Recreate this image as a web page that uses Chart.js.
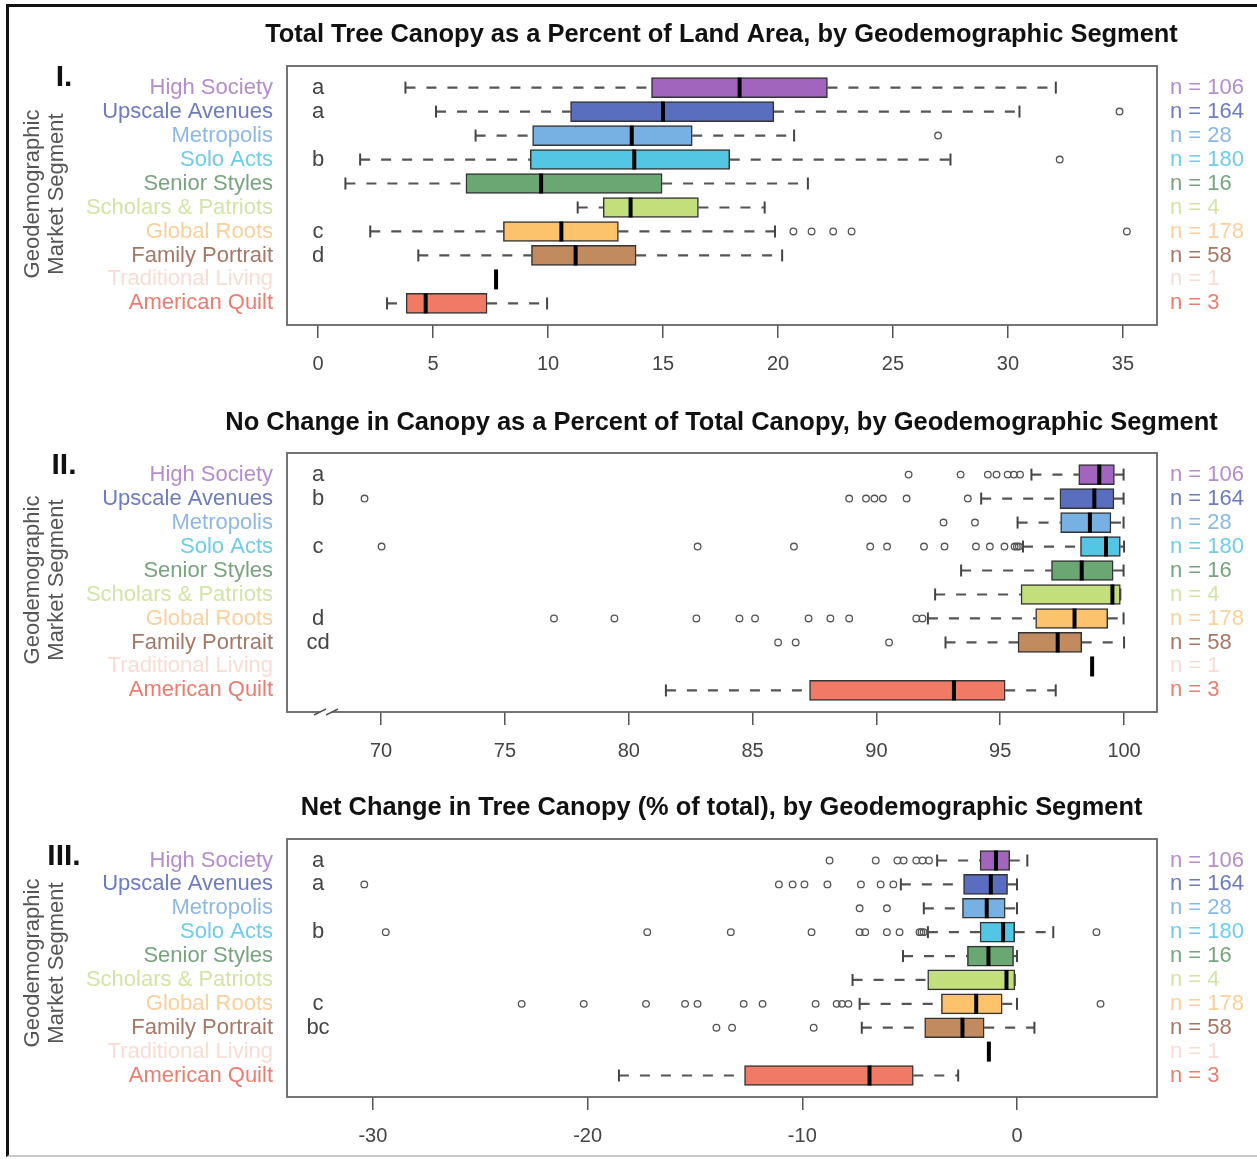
<!DOCTYPE html>
<html>
<head>
<meta charset="utf-8">
<title>Tree canopy by geodemographic segment</title>
<script src="https://cdn.jsdelivr.net/npm/chart.js@4.4.1/dist/chart.umd.min.js"></script>
<style>
  html, body { margin: 0; padding: 0; background: #fff; }
  #page { position: relative; width: 1257px; height: 1159px; overflow: hidden; background: #fff; }
  #page canvas { position: absolute; left: 0; }
  #frame { position: absolute; left: 6px; top: 4px; right: 0; bottom: 2px;
           border-left: 3px solid #111; border-top: 3px solid #111; border-bottom: 2px solid #c8c8c8;
           pointer-events: none; }
</style>
</head>
<body>
<div id="page">
  <canvas id="panel1" width="1257" height="390" style="top:0"></canvas>
  <canvas id="panel2" width="1257" height="385" style="top:390px"></canvas>
  <canvas id="panel3" width="1257" height="384" style="top:775px"></canvas>
  <div id="frame"></div>
</div>
<script>
// --- categories (top to bottom) ---
const segments = ['High Society', 'Upscale Avenues', 'Metropolis', 'Solo Acts', 'Senior Styles',
                  'Scholars & Patriots', 'Global Roots', 'Family Portrait', 'Traditional Living', 'American Quilt'];
const sampleSizes = [106, 164, 28, 180, 16, 4, 178, 58, 1, 3];

// --- I. total tree canopy, % of land area ---
const canopyLow     = [3.8, 5.13, 6.85, 1.83, 1.19, 11.29, 2.27, 4.36, null, 3.0];
const canopyQ1      = [14.5, 10.98, 9.33, 9.23, 6.43, 12.4, 8.06, 9.28, null, 3.83];
const canopyMedian  = [18.33, 15.0, 13.64, 13.75, 9.7, 13.59, 10.58, 11.2, 7.74, 4.68];
const canopyQ3      = [22.15, 19.82, 16.27, 17.9, 14.96, 16.54, 13.06, 13.83, null, 7.35];
const canopyHigh    = [32.08, 30.5, 20.7, 27.5, 21.3, 19.42, 19.87, 20.18, null, 9.96];
const canopyOutliers = [[], [34.85], [26.96], [32.25], [], [], [20.67, 21.46, 22.4, 23.2, 35.17], [], [], []];
const canopyGroups  = ['a', 'a', '', 'b', '', '', 'c', 'd', '', ''];
const canopyTicks   = [0, 5, 10, 15, 20, 25, 30, 35];

// --- II. no change in canopy, % of total canopy ---
const stableLow     = [96.26, 94.23, 95.7, 95.92, 93.42, 92.37, 92.08, 92.79, null, 81.5];
const stableQ1      = [98.17, 97.41, 97.44, 98.24, 97.07, 95.84, 96.43, 95.72, null, 87.3];
const stableMedian  = [99.0, 98.8, 98.62, 99.27, 98.29, 99.53, 98.0, 97.32, 98.71, 93.13];
const stableQ3      = [99.61, 99.59, 99.47, 99.85, 99.56, 99.85, 99.34, 98.29, null, 95.2];
const stableHigh    = [99.98, 99.98, 99.98, 100.0, 99.98, 99.85, 99.98, 100.0, null, 97.24];
const stableOutliers = [
  [91.3, 93.4, 94.5, 94.85, 95.3, 95.55, 95.8],
  [69.33, 88.9, 89.58, 89.92, 90.26, 91.22, 93.69],
  [92.71, 93.98],
  [70.02, 82.78, 86.67, 89.75, 90.43, 91.92, 92.75, 94.02, 94.58, 95.17, 95.58, 95.67, 95.75],
  [],
  [],
  [76.98, 79.42, 82.73, 84.47, 85.1, 87.26, 88.14, 88.9, 91.61, 91.86],
  [86.03, 86.74, 90.51],
  [],
  []
];
const stableGroups  = ['a', 'b', '', 'c', '', '', 'd', 'cd', '', ''];
const stableTicks   = [70, 75, 80, 85, 90, 95, 100];

// --- III. net change in tree canopy, % of total ---
const netLow        = [-3.72, -5.41, -4.34, -4.15, -5.31, -7.66, -7.33, -7.23, null, -18.54];
const netQ1         = [-1.72, -2.49, -2.54, -1.72, -2.31, -4.16, -3.52, -4.3, null, -12.69];
const netMedian     = [-0.98, -1.22, -1.41, -0.65, -1.33, -0.49, -1.9, -2.54, -1.31, -6.87];
const netQ3         = [-0.34, -0.44, -0.55, -0.11, -0.16, -0.1, -0.69, -1.53, null, -4.83];
const netHigh       = [0.48, 0.0, 0.0, 1.69, 0.0, -0.1, 0.0, 0.81, null, -2.74];
const netOutliers = [
  [-8.73, -6.58, -5.57, -5.28, -4.69, -4.4, -4.1],
  [-30.4, -11.09, -10.45, -9.9, -8.83, -7.27, -6.35, -5.76],
  [-7.33, -6.06],
  [-29.4, -17.22, -13.33, -9.57, -7.33, -7.07, -6.06, -5.47, -4.54, -4.45, -4.35, 3.7],
  [],
  [],
  [-23.07, -20.18, -17.28, -15.46, -14.88, -12.73, -11.85, -9.38, -8.4, -8.15, -7.85, 3.89],
  [-14.0, -13.27, -9.47],
  [],
  []
];
const netGroups     = ['a', 'a', '', 'b', '', '', 'c', 'bc', '', ''];
const netTicks      = [-30, -20, -10, 0];

// --- styling ---
const boxFill  = ['#a265bd', '#5a6ebf', '#77b0e3', '#52c6e2', '#6aa772',
                  '#c3df7c', '#fdc36c', '#c28b5f', '#f6d3c6', '#f07a66'];
const labelInk = ['#b58ccc', '#6c7cbf', '#8db8e6', '#6fcde6', '#78a57e',
                  '#d2e4a6', '#fbd09c', '#a57866', '#f9ddd5', '#ea7d70'];
const FONT = "'Liberation Sans', Arial, Helvetica, sans-serif";

function boxDatasets(low, q1, med, q3, high, outliers) {
    const boxes = [], fills = [], whiskers = [], caps = [], medians = [], dots = [];
    segments.forEach((s, i) => {
        medians.push({ x: med[i], y: i });
        outliers[i].forEach(v => dots.push({ x: v, y: i }));
        if (q1[i] === null) return;
        boxes.push({ x: [q1[i], q3[i]], y: i });
        fills.push(boxFill[i]);
        whiskers.push({ x: low[i], y: i }, { x: q1[i], y: i }, { x: null, y: i },
                      { x: q3[i], y: i }, { x: high[i], y: i }, { x: null, y: i });
        caps.push({ x: low[i], y: i }, { x: high[i], y: i });
    });
    return [
        { type: 'line', data: whiskers, borderColor: '#555', borderWidth: 2.2, borderDash: [10, 11],
          pointRadius: 0, fill: false, spanGaps: false, order: 4 },
        { type: 'bar', data: boxes, backgroundColor: fills, borderColor: '#333', borderWidth: 1.5,
          borderSkipped: false, barThickness: 20, order: 3 },
        { type: 'scatter', data: caps, pointStyle: 'line', pointRotation: 90, pointRadius: 6,
          pointBorderWidth: 2, pointBorderColor: '#444', order: 2 },
        { type: 'scatter', data: dots, pointStyle: 'circle', pointRadius: 3.3, pointBorderWidth: 1.3,
          pointBorderColor: '#555', pointBackgroundColor: 'rgba(255,255,255,0)', order: 1 },
        { type: 'scatter', data: medians, pointStyle: 'line', pointRotation: 90, pointRadius: 10,
          pointBorderWidth: 4, pointBorderColor: '#000', order: 0 }
    ];
}

// text around each panel: titles, segment names, letters, n counts
function panelDecor(cfg) {
    return {
        id: 'panelDecor',
        afterDraw(chart) {
            const ctx = chart.ctx;
            const area = chart.chartArea;
            const y = chart.scales.y;
            ctx.save();

            ctx.strokeStyle = '#666';
            ctx.lineWidth = 1.8;
            ctx.strokeRect(area.left, area.top, area.right - area.left, area.bottom - area.top);

            if (cfg.axisBreak) {
                ctx.fillStyle = '#fff';
                ctx.fillRect(area.left + 33, area.bottom - 3, 12, 6);
                ctx.strokeStyle = '#555';
                ctx.lineWidth = 1.5;
                [area.left + 33, area.left + 45].forEach(bx => {
                    ctx.beginPath();
                    ctx.moveTo(bx - 6, area.bottom + 3);
                    ctx.lineTo(bx + 6, area.bottom - 3);
                    ctx.stroke();
                });
            }

            ctx.textBaseline = 'middle';
            ctx.font = `22px ${FONT}`;
            segments.forEach((s, i) => {
                const py = y.getPixelForValue(i);
                ctx.fillStyle = labelInk[i];
                ctx.textAlign = 'right';
                ctx.fillText(s, area.left - 14, py);
                ctx.textAlign = 'left';
                ctx.fillText('n = ' + sampleSizes[i], area.right + 13, py);
                if (cfg.groups[i]) {
                    ctx.fillStyle = '#444';
                    ctx.textAlign = 'center';
                    ctx.fillText(cfg.groups[i], area.left + 31, py);
                }
            });

            // title, sized to the reference width
            ctx.font = `bold 100px ${FONT}`;
            const size = 100 * cfg.titleWidth / ctx.measureText(cfg.title).width;
            ctx.font = `bold ${size.toFixed(2)}px ${FONT}`;
            ctx.fillStyle = '#111';
            ctx.textAlign = 'center';
            ctx.fillText(cfg.title, 721.5, cfg.titleY);

            ctx.font = `bold 30px ${FONT}`;
            ctx.fillText(cfg.numeral, 64, cfg.numeralY);

            ctx.font = `22px ${FONT}`;
            ctx.fillStyle = '#555';
            [['Geodemographic', 32.5], ['Market Segment', 57]].forEach(([txt, tx]) => {
                ctx.save();
                ctx.translate(tx, cfg.axisTitleY);
                ctx.rotate(-Math.PI / 2);
                ctx.fillText(txt, 0, 0);
                ctx.restore();
            });
            ctx.restore();
        }
    };
}

function panelChart(canvasId, datasets, cfg) {
    return new Chart(document.getElementById(canvasId), {
        type: 'bar',
        data: { datasets },
        options: {
            indexAxis: 'y',
            responsive: false,
            animation: false,
            events: [],
            layout: { padding: { left: 287, right: 100, top: cfg.padTop, bottom: cfg.padBottom } },
            plugins: { legend: { display: false }, tooltip: { enabled: false } },
            scales: {
                x: {
                    type: 'linear', min: cfg.min, max: cfg.max, beginAtZero: false,
                    border: { display: false },
                    grid: { drawOnChartArea: false, drawTicks: true, tickLength: 13, color: '#555', lineWidth: 1.5 },
                    ticks: { font: { family: FONT, size: 20 }, color: '#444', padding: 14, maxRotation: 0, autoSkip: false },
                    afterBuildTicks: axis => { axis.ticks = cfg.ticks.map(v => ({ value: v })); },
                    afterFit: axis => { axis.height = 60; }
                },
                y: { type: 'linear', min: -0.9, max: 9.9, reverse: true, display: false, offset: false }
            }
        },
        plugins: [panelDecor(cfg)]
    });
}

panelChart('panel1',
    boxDatasets(canopyLow, canopyQ1, canopyMedian, canopyQ3, canopyHigh, canopyOutliers),
    { min: -1.35, max: 36.48, ticks: canopyTicks, groups: canopyGroups, padTop: 66, padBottom: 5,
      title: 'Total Tree Canopy as a Percent of Land Area, by Geodemographic Segment', titleWidth: 913,
      titleY: 35, numeral: 'I.', numeralY: 78, axisTitleY: 194 });

panelChart('panel2',
    boxDatasets(stableLow, stableQ1, stableMedian, stableQ3, stableHigh, stableOutliers),
    { min: 66.2, max: 101.33, ticks: stableTicks, groups: stableGroups, padTop: 63, padBottom: 3,
      title: 'No Change in Canopy as a Percent of Total Canopy, by Geodemographic Segment', titleWidth: 993,
      titleY: 33, numeral: 'II.', numeralY: 76, axisTitleY: 190, axisBreak: true });

panelChart('panel3',
    boxDatasets(netLow, netQ1, netMedian, netQ3, netHigh, netOutliers),
    { min: -34.0, max: 6.52, ticks: netTicks, groups: netGroups, padTop: 64, padBottom: 2,
      title: 'Net Change in Tree Canopy (% of total), by Geodemographic Segment', titleWidth: 842,
      titleY: 33, numeral: 'III.', numeralY: 82, axisTitleY: 188 });
</script>
</body>
</html>
